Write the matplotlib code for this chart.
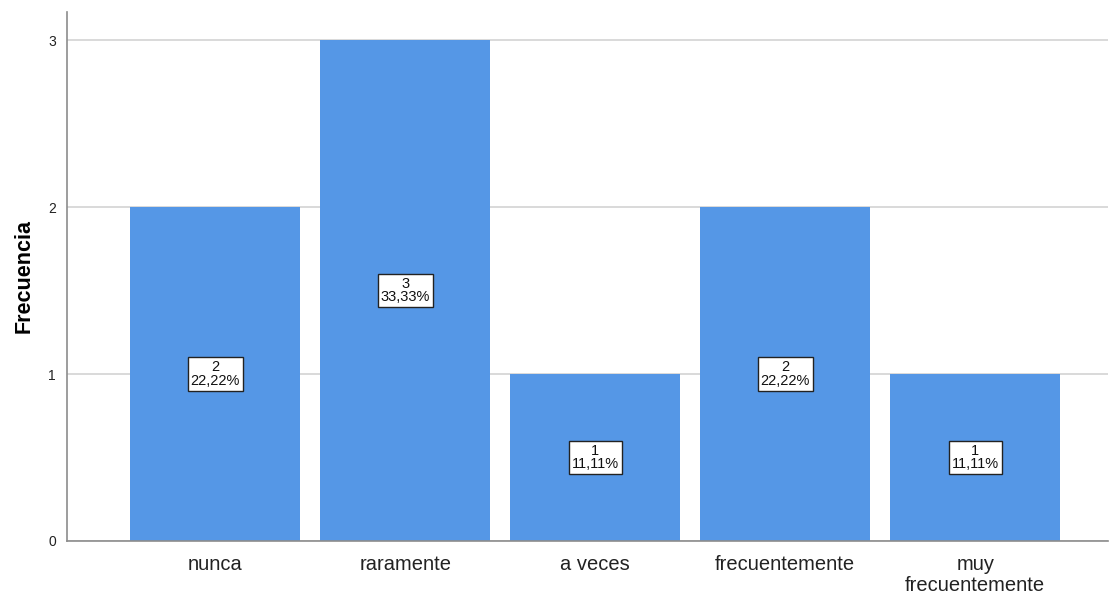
import matplotlib
matplotlib.use("Agg")
import matplotlib.pyplot as plt

plt.rcParams["font.family"] = ["Liberation Sans", "DejaVu Sans"]

categories = ["nunca", "raramente", "a veces", "frecuentemente", "muy\nfrecuentemente"]
counts = [2, 3, 1, 2, 1]
percents = ["22,22%", "33,33%", "11,11%", "22,22%", "11,11%"]

BAR = "#5597E6"
GRID = "#D3D3D3"
AXIS = "#8C8C8C"

fig = plt.figure(figsize=(11.1, 5.96), dpi=100)
ax = fig.add_axes([0.0604, 0.0923, 0.938, 0.888])

x = range(len(categories))
ax.bar(x, counts, width=0.895, color=BAR, zorder=2)

for xi, c, p in zip(x, counts, percents):
    ax.text(xi, c / 2, f"{c}\n{p}", ha="center", va="center", fontsize=10.5,
            linespacing=0.95, zorder=4, color="#111111",
            bbox=dict(boxstyle="square,pad=0.2", fc="white", ec="#222222", lw=1.0))

ax.set_xlim(-0.78, 4.7)
ax.set_ylim(0, 3.17)
ax.set_yticks([0, 1, 2, 3])
ax.set_xticks(list(x))
ax.set_xticklabels(categories, fontsize=14.5, color="#222222", linespacing=1.15)
ax.tick_params(axis="x", length=0, pad=10)
ax.tick_params(axis="y", length=0, pad=8, labelsize=10, colors="#222222")
ax.yaxis.grid(True, color=GRID, lw=1.2, zorder=0)
ax.set_axisbelow(True)

for side in ("top", "right"):
    ax.spines[side].set_visible(False)
ax.spines["left"].set_color(AXIS)
ax.spines["bottom"].set_color(AXIS)
ax.spines["left"].set_linewidth(1.2)
ax.spines["bottom"].set_linewidth(1.2)

ax.set_ylabel("Frecuencia", fontsize=15.5, fontweight="bold", labelpad=10)

fig.savefig("out.png", dpi=100, facecolor="white")
